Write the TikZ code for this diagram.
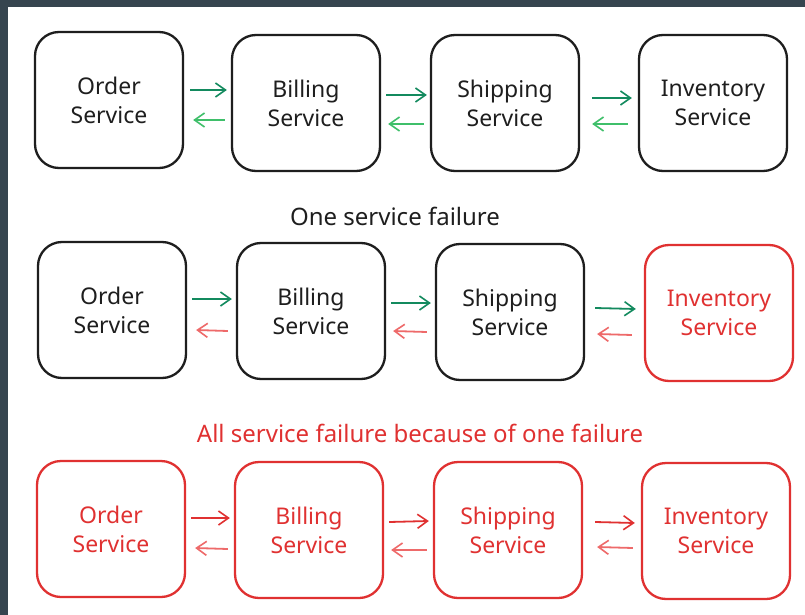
\documentclass[tikz,border=0pt]{standalone}
\usepackage{fontspec}
\setmainfont{Noto Sans}
\usetikzlibrary{arrows.meta}
\definecolor{frame}{HTML}{36454F}
\definecolor{ink}{HTML}{1E1E1E}
\definecolor{bad}{HTML}{E03131}
\definecolor{badlight}{HTML}{EE6A6A}
\definecolor{okdark}{HTML}{138A5E}
\definecolor{oklight}{HTML}{3FBF6A}
\tikzset{
  svc/.style={draw=ink, line width=2.3pt, rounded corners=24pt, minimum width=148pt,
    minimum height=136pt, align=center, font=\fontsize{23}{29}\selectfont, text=ink},
  svcdown/.style={svc, draw=bad, text=bad},
  link/.style={line width=1.8pt, -{Straight Barb[length=10pt,width=14pt,line width=1.6pt]}},
  fwd/.style={link, draw=okdark},
  back/.style={link, draw=oklight},
  fwdbad/.style={link, draw=bad},
  backbad/.style={link, draw=badlight},
  caption/.style={font=\fontsize{24}{29}\selectfont}
}
\begin{document}
\begin{tikzpicture}[x=1pt,y=-1pt]
\useasboundingbox (0,0) rectangle (805,615);
\fill[white] (0,0) rectangle (805,615);
\fill[frame] (0,0) rectangle (805,7);
\fill[frame] (0,0) rectangle (8,615);

% healthy chain
\node[svc] (o1) at (109,100) {Order\\Service};
\node[svc] (b1) at (306,103) {Billing\\Service};
\node[svc] (s1) at (505,103) {Shipping\\Service};
\node[svc] (i1) at (713,103) {Inventory\\Service};

\draw[fwd]  ([xshift=6pt,yshift=10pt]o1.east) -- ([xshift=-4pt,yshift=13pt]b1.west);
\draw[back] ([xshift=-6pt,yshift=-17pt]b1.west) -- ([xshift=9pt,yshift=-20pt]o1.east);
\draw[fwd]  ([xshift=5pt,yshift=8pt]b1.east) -- ([xshift=-3pt,yshift=8pt]s1.west);
\draw[back] ([xshift=-6pt,yshift=-21pt]s1.west) -- ([xshift=7pt,yshift=-21pt]b1.east);
\draw[fwd]  ([xshift=12pt,yshift=5pt]s1.east) -- ([xshift=-6pt,yshift=5pt]i1.west);
\draw[back] ([xshift=-10pt,yshift=-21pt]i1.west) -- ([xshift=12pt,yshift=-21pt]s1.east);

\node[caption, text=ink] (c1) at (395,216) {One service failure};

% one failing service
\node[svc] (o2) at (112,310) {Order\\Service};
\node[svc] (b2) at (311,311) {Billing\\Service};
\node[svc] (s2) at (510,312) {Shipping\\Service};
\node[svcdown] (i2) at (719,313) {Inventory\\Service};

\draw[fwd]     ([xshift=5pt,yshift=11pt]o2.east) -- ([xshift=-4pt,yshift=12pt]b2.west);
\draw[backbad] ([xshift=-8pt,yshift=-20pt]b2.west) -- ([xshift=9pt,yshift=-20pt]o2.east);
\draw[fwd]     ([xshift=5pt,yshift=8pt]b2.east) -- ([xshift=-4pt,yshift=9pt]s2.west);
\draw[backbad] ([xshift=-8pt,yshift=-20pt]s2.west) -- ([xshift=7pt,yshift=-20pt]b2.east);
\draw[fwd]     ([xshift=10pt,yshift=4pt]s2.east) -- ([xshift=-8pt,yshift=4pt]i2.west);
\draw[backbad] ([xshift=-12pt,yshift=-22pt]i2.west) -- ([xshift=12pt,yshift=-22pt]s2.east);

\node[caption, text=bad] (c2) at (420,433) {All service failure because of one failure};

% whole chain down
\node[svcdown] (o3) at (111,529) {Order\\Service};
\node[svcdown] (b3) at (309,530) {Billing\\Service};
\node[svcdown] (s3) at (508,530) {Shipping\\Service};
\node[svcdown] (i3) at (716,531) {Inventory\\Service};

\draw[fwdbad]  ([xshift=5pt,yshift=11pt]o3.east) -- ([xshift=-4pt,yshift=12pt]b3.west);
\draw[backbad] ([xshift=-6pt,yshift=-19pt]b3.west) -- ([xshift=9pt,yshift=-19pt]o3.east);
\draw[fwdbad]  ([xshift=5pt,yshift=8pt]b3.east) -- ([xshift=-4pt,yshift=9pt]s3.west);
\draw[backbad] ([xshift=-6pt,yshift=-20pt]s3.west) -- ([xshift=7pt,yshift=-20pt]b3.east);
\draw[fwdbad]  ([xshift=12pt,yshift=8pt]s3.east) -- ([xshift=-6pt,yshift=8pt]i3.west);
\draw[backbad] ([xshift=-8pt,yshift=-17pt]i3.west) -- ([xshift=14pt,yshift=-17pt]s3.east);
\end{tikzpicture}
\end{document}
